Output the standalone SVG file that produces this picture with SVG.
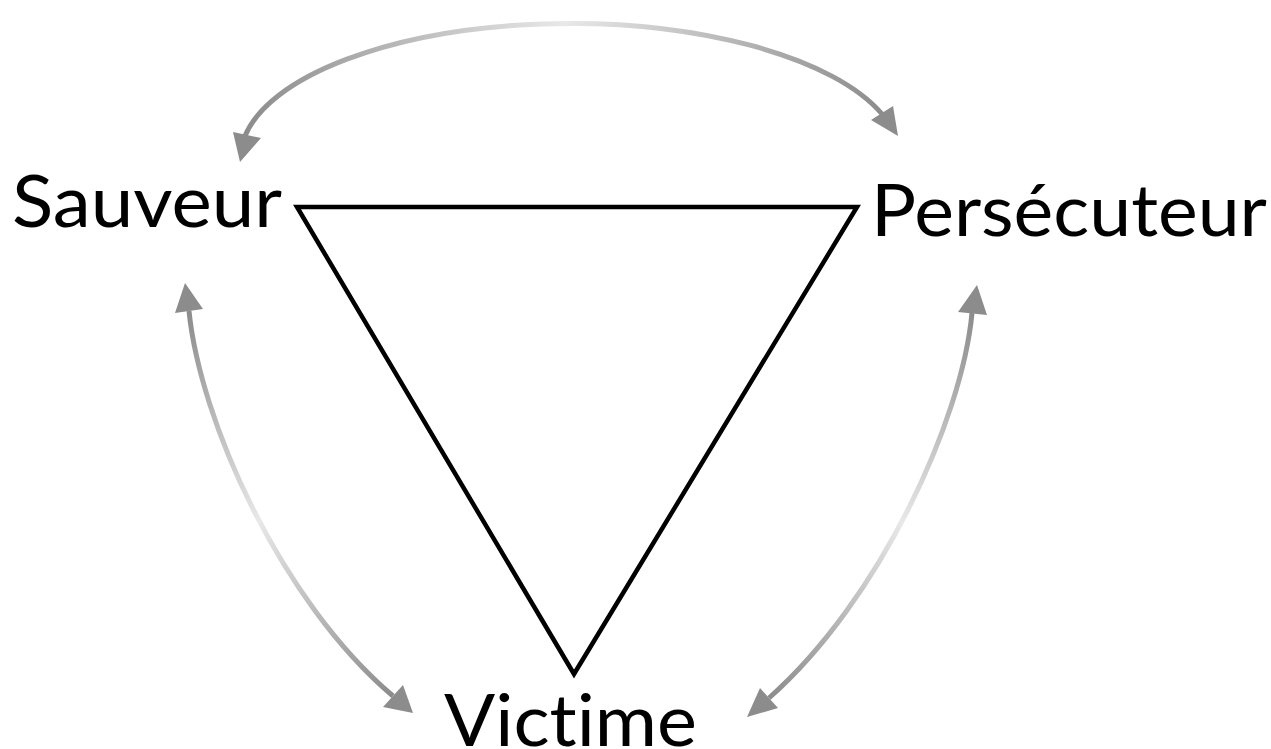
<svg xmlns="http://www.w3.org/2000/svg" width="1271" height="749" viewBox="0 0 1271 749">
<defs>
<style>
.lbl{font-family:Lato,"Liberation Sans",sans-serif;font-size:71px;fill:#000;font-variant-ligatures:none}
.arc{fill:none;stroke-width:5}
.head{fill:#8c8c8c}
.tri{fill:none;stroke:#000;stroke-width:4.5;stroke-linejoin:miter}
</style>
<linearGradient id="gTop" gradientUnits="userSpaceOnUse" x1="245" y1="0" x2="882" y2="0">
<stop offset="0" stop-color="#8c8c8c"/><stop offset="0.5" stop-color="#e8e8e8"/><stop offset="1" stop-color="#8c8c8c"/>
</linearGradient>
<linearGradient id="gLeft" gradientUnits="userSpaceOnUse" x1="189" y1="311" x2="393" y2="696">
<stop offset="0" stop-color="#8c8c8c"/><stop offset="0.5" stop-color="#e8e8e8"/><stop offset="1" stop-color="#8c8c8c"/>
</linearGradient>
<linearGradient id="gRight" gradientUnits="userSpaceOnUse" x1="972" y1="313" x2="769" y2="698">
<stop offset="0" stop-color="#8c8c8c"/><stop offset="0.5" stop-color="#e8e8e8"/><stop offset="1" stop-color="#8c8c8c"/>
</linearGradient>
</defs>
<rect width="1271" height="749" fill="#fff"/>
<g id="triangle">
<polygon class="tri" points="297,207 857,207 574,674"/>
</g>
<g id="connectors">
<path class="arc" stroke="url(#gTop)" d="M245,136 A330 135 0 0 1 882,114"/>
<polygon class="head" points="240,162 233,132 261,138"/>
<polygon class="head" points="898,136 871,120 893,106"/>
<path class="arc" stroke="url(#gLeft)" d="M189,311 C200,420 280,600 393,696"/>
<polygon class="head" points="185,283 175,313 203,309"/>
<polygon class="head" points="413,713 383,707 403,685"/>
<path class="arc" stroke="url(#gRight)" d="M972,313 C962,420 880,600 769,698"/>
<polygon class="head" points="977,285 958,312 987,315"/>
<polygon class="head" points="747,717 760,688 778,708"/>
</g>
<g id="node-sauveur"><text class="lbl" x="12" y="227" textLength="270" lengthAdjust="spacingAndGlyphs">Sauveur</text></g>
<g id="node-persecuteur"><text class="lbl" x="871" y="236" textLength="396" lengthAdjust="spacingAndGlyphs">Persécuteur</text></g>
<g id="node-victime"><text class="lbl" x="444" y="746" textLength="253" lengthAdjust="spacingAndGlyphs">Victime</text></g>
</svg>
